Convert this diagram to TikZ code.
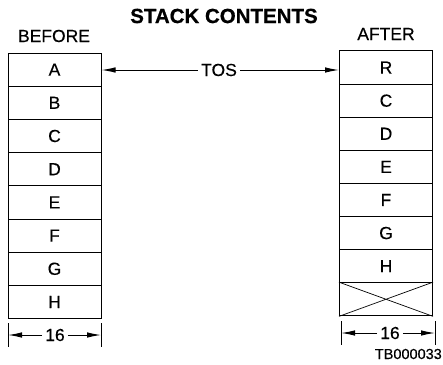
\documentclass[tikz,border=0pt]{standalone}
\usepackage{fontspec}
\setmainfont{Liberation Sans}[FakeBold=0.35]
\newfontfamily\titlefont{Liberation Sans}[FakeBold=0.6]
\usetikzlibrary{arrows.meta}
\begin{document}
\begin{tikzpicture}[x=1pt,y=-1pt,
  cell/.style={draw, line width=1pt, minimum width=93pt, minimum height=33.2pt, inner sep=0pt, font=\fontsize{17.5}{20}\selectfont},
  lbl/.style={font=\fontsize{17.5}{20}\selectfont, inner sep=1pt},
  ptr/.style={line width=1pt, -{Latex[length=14pt,width=5.5pt]}},
  tick/.style={line width=1pt}]
\useasboundingbox (0,0) rectangle (443,364);
\node[font=\titlefont\bfseries\fontsize{20.5}{24}\selectfont] (title) at (224,16) {STACK CONTENTS};
\node[lbl] (before) at (54,36) {BEFORE};
\node[lbl] (after) at (386,34) {AFTER};
% left stack
\foreach \t [count=\i] in {A,B,C,D,E,F,G,H}
  \node[cell] (L\i) at (54.5,{53+16.6+(\i-1)*33.2}) {\t};
% right stack
\foreach \t [count=\i] in {R,C,D,E,F,G,H,{}}
  \node[cell] (R\i) at (386,{51+16.55+(\i-1)*33.1}) {\t};
\draw[line width=0.7pt] (R8.north west) -- (R8.south east) (R8.south west) -- (R8.north east);
% TOS
\node[lbl, inner sep=3pt] (tos) at (219,70) {TOS};
\draw[ptr] (tos.west) -- (tos.west -| L1.east);
\draw[ptr] (tos.east) -- (tos.east -| R1.west);
% dimensions left
\coordinate (la1) at (8,323); \coordinate (la2) at (8,347);
\coordinate (lb1) at (101,323); \coordinate (lb2) at (101,347);
\draw[tick] (la1) -- (la2) (lb1) -- (lb2);
\node[lbl, inner sep=3pt] (d1) at (55,335) {16};
\draw[ptr] (d1.west) -- (d1.west -| la1);
\draw[ptr] (d1.east) -- (d1.east -| lb1);
% dimensions right
\coordinate (ra1) at (341,321); \coordinate (ra2) at (341,345);
\coordinate (rb1) at (435,321); \coordinate (rb2) at (435,345);
\draw[tick] (ra1) -- (ra2) (rb1) -- (rb2);
\node[lbl, inner sep=3pt] (d2) at (390,333) {16};
\draw[ptr] (d2.west) -- (d2.west -| ra1);
\draw[ptr] (d2.east) -- (d2.east -| rb1);
\node[font=\fontsize{14.5}{16}\selectfont, inner sep=0pt, anchor=east] (tb) at (442,354) {TB000033};
\end{tikzpicture}
\end{document}
